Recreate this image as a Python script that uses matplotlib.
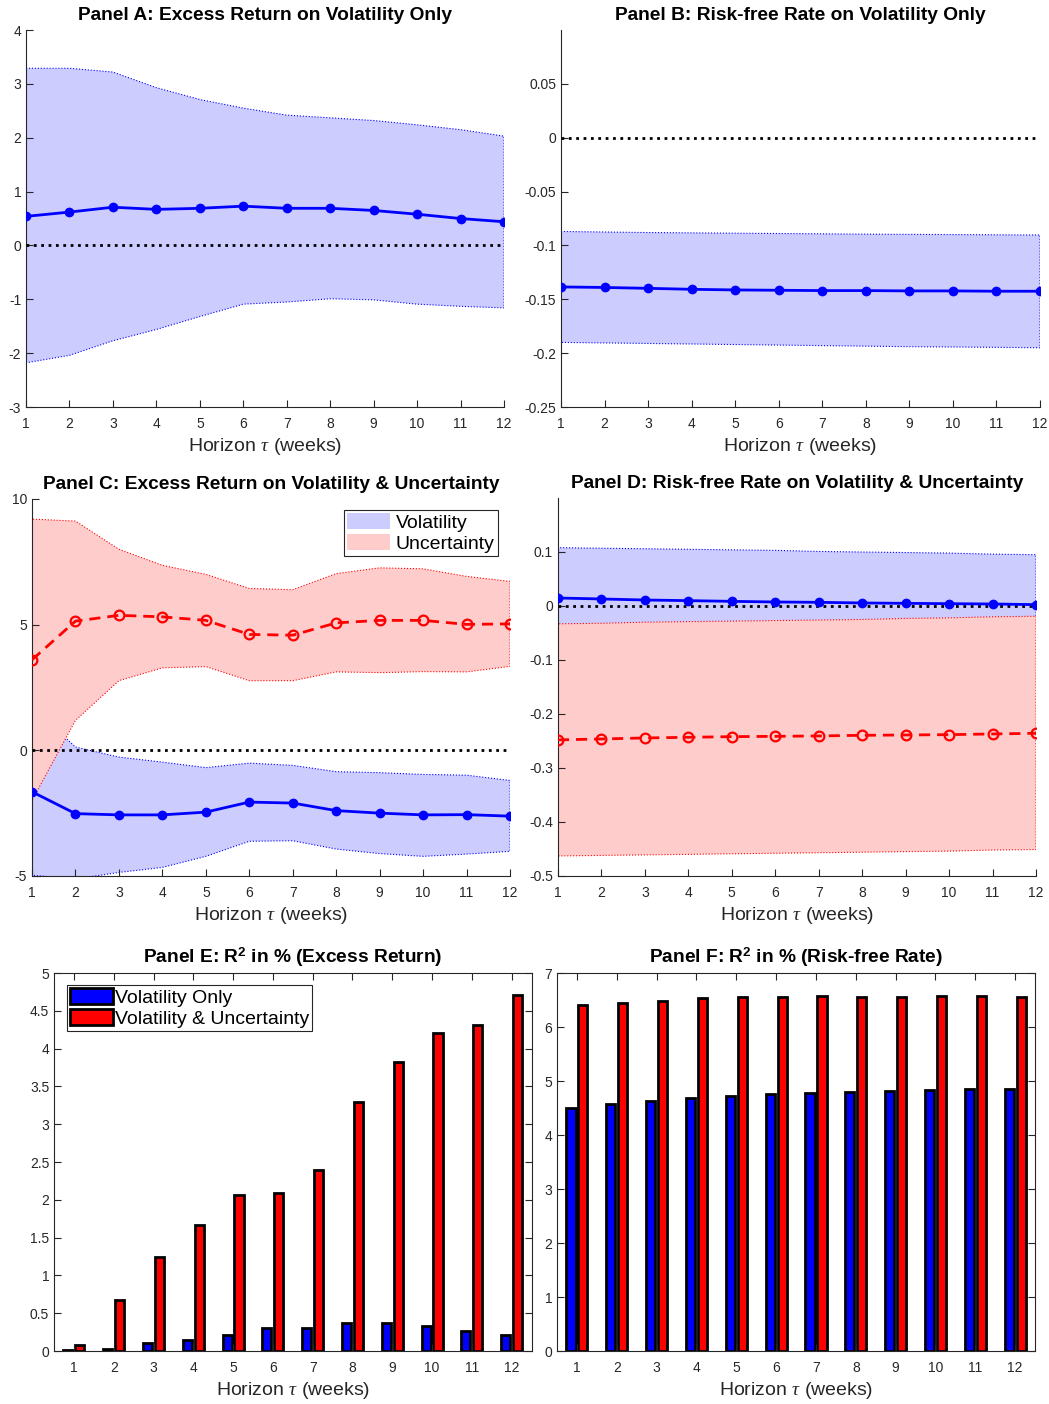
import numpy as np
import matplotlib
matplotlib.use("Agg")
import matplotlib.pyplot as plt
from matplotlib.patches import Patch

plt.rcParams['font.family'] = ['Liberation Sans', 'DejaVu Sans']
plt.rcParams['mathtext.fontset'] = 'custom'
plt.rcParams['mathtext.rm'] = 'Liberation Sans'
plt.rcParams['mathtext.bf'] = 'Liberation Sans:bold'
plt.rcParams['mathtext.it'] = 'Liberation Serif:italic'
plt.rcParams['axes.unicode_minus'] = False

horizon = np.arange(1, 13)

# Panel A: excess return on volatility only
a_coef = [0.54, 0.62, 0.71, 0.67, 0.69, 0.73, 0.69, 0.69, 0.65, 0.58, 0.50, 0.44]
a_hi = [3.29, 3.29, 3.22, 2.93, 2.71, 2.55, 2.42, 2.37, 2.32, 2.24, 2.15, 2.03]
a_lo = [-2.18, -2.04, -1.77, -1.56, -1.32, -1.09, -1.05, -0.99, -1.01, -1.09, -1.13, -1.16]

# Panel B: risk-free rate on volatility only
b_coef = [-0.1385, -0.139, -0.1398, -0.1407, -0.1413, -0.1416, -0.1419, -0.1419,
          -0.1422, -0.1422, -0.1425, -0.1425]
b_hi = [-0.087, -0.0875, -0.088, -0.0883, -0.0886, -0.0889, -0.0892, -0.0895,
        -0.0897, -0.0899, -0.0901, -0.0903]
b_lo = [-0.190, -0.1905, -0.191, -0.1915, -0.192, -0.1925, -0.193, -0.1935,
        -0.194, -0.1943, -0.1946, -0.195]

# Panel C: excess return on volatility & uncertainty
c_vol = [-1.65, -2.52, -2.57, -2.57, -2.46, -2.06, -2.10, -2.40, -2.50, -2.57, -2.56, -2.62]
c_vol_hi = [1.75, 0.13, -0.27, -0.47, -0.69, -0.51, -0.60, -0.85, -0.89, -0.96, -0.99, -1.20]
c_vol_lo = [-4.97, -5.12, -4.86, -4.66, -4.22, -3.62, -3.60, -3.93, -4.11, -4.22, -4.13, -4.02]
c_unc = [3.60, 5.14, 5.37, 5.31, 5.17, 4.61, 4.58, 5.07, 5.17, 5.17, 5.01, 5.03]
c_unc_hi = [9.20, 9.12, 8.00, 7.36, 7.00, 6.44, 6.39, 7.03, 7.26, 7.22, 6.92, 6.72]
c_unc_lo = [-2.00, 1.19, 2.77, 3.28, 3.33, 2.77, 2.77, 3.12, 3.09, 3.13, 3.12, 3.34]

# Panel D: risk-free rate on volatility & uncertainty
d_vol = [0.0148, 0.013, 0.0111, 0.0099, 0.0086, 0.0074, 0.0068, 0.0056, 0.0049, 0.0043, 0.0037, 0.0025]
d_vol_hi = [0.108, 0.107, 0.106, 0.105, 0.104, 0.103, 0.101, 0.100, 0.099, 0.098, 0.096, 0.095]
d_vol_lo = [-0.080, -0.081, -0.082, -0.083, -0.084, -0.085, -0.086, -0.087, -0.088, -0.089, -0.090, -0.090]
d_unc = [-0.248, -0.2463, -0.2444, -0.2432, -0.242, -0.2414, -0.2407, -0.2395, -0.2389, -0.2383, -0.237, -0.2358]
d_unc_hi = [-0.033, -0.032, -0.030, -0.029, -0.028, -0.027, -0.026, -0.025, -0.023, -0.022, -0.020, -0.019]
d_unc_lo = [-0.463, -0.462, -0.461, -0.460, -0.459, -0.458, -0.457, -0.456, -0.455, -0.454, -0.452, -0.451]

# Panel E / F: R^2 in %
e_vol = [0.01, 0.03, 0.106, 0.14, 0.21, 0.30, 0.31, 0.37, 0.375, 0.33, 0.265, 0.21]
e_both = [0.075, 0.67, 1.245, 1.665, 2.07, 2.09, 2.39, 3.30, 3.83, 4.21, 4.32, 4.71]
f_vol = [4.51, 4.58, 4.63, 4.69, 4.73, 4.76, 4.78, 4.79, 4.81, 4.83, 4.85, 4.86]
f_both = [6.41, 6.45, 6.49, 6.53, 6.55, 6.56, 6.57, 6.56, 6.56, 6.57, 6.57, 6.55]

BLUE_FILL = '#ccccff'
RED_FILL = '#ffcccc'
AX_COL = '#262626'
xlab = r'Horizon $\tau$ (weeks)'

fig = plt.figure(figsize=(10.49, 14.04), dpi=100)


def style_axes(ax, box=False):
    for s in ['left', 'bottom', 'top', 'right']:
        ax.spines[s].set_color(AX_COL)
        ax.spines[s].set_linewidth(0.8)
    if not box:
        ax.spines['top'].set_visible(False)
        ax.spines['right'].set_visible(False)
    ax.tick_params(direction='in', length=5, width=0.8, colors=AX_COL,
                   labelsize=10, top=box, right=box)
    ax.set_xlabel(xlab, fontsize=14, color=AX_COL, labelpad=4)


def line_panel(rect, title, ylim, yticks, yticklabels):
    ax = fig.add_axes(rect)
    ax.set_xlim(1, 12)
    ax.set_ylim(*ylim)
    ax.set_xticks(horizon)
    ax.set_yticks(yticks)
    ax.set_yticklabels(yticklabels)
    ax.set_title(title, fontsize=13.8, fontweight='bold', pad=7)
    style_axes(ax)
    ax.tick_params(axis='x', pad=7)
    return ax


def band(ax, lo, hi, fc, ec):
    ax.fill_between(horizon, lo, hi, facecolor=fc, edgecolor=ec,
                    linestyle=':', linewidth=0.8, zorder=1)


def zero_line(ax):
    ax.axhline(0, color='black', linestyle=':', linewidth=2, zorder=3)


# Panel A
ax = line_panel([0.0248, 0.7101, 0.4557, 0.2685],
                'Panel A: Excess Return on Volatility Only', (-3, 4),
                range(-3, 5), [str(v) for v in range(-3, 5)])
band(ax, a_lo, a_hi, BLUE_FILL, 'blue')
zero_line(ax)
ax.plot(horizon, a_coef, '-o', color='blue', lw=2, ms=6, zorder=4)

# Panel B
ax = line_panel([0.5348, 0.7101, 0.4566, 0.2685],
                'Panel B: Risk-free Rate on Volatility Only', (-0.25, 0.1),
                [-0.25, -0.2, -0.15, -0.1, -0.05, 0, 0.05],
                ['-0.25', '-0.2', '-0.15', '-0.1', '-0.05', '0', '0.05'])
band(ax, b_lo, b_hi, BLUE_FILL, 'blue')
zero_line(ax)
ax.plot(horizon, b_coef, '-o', color='blue', lw=2, ms=6, zorder=4)

# Panel C
ax = line_panel([0.0305, 0.3761, 0.4557, 0.2685],
                'Panel C: Excess Return on Volatility & Uncertainty', (-5, 10),
                [-5, 0, 5, 10], ['-5', '0', '5', '10'])
band(ax, c_vol_lo, c_vol_hi, BLUE_FILL, 'blue')
band(ax, c_unc_lo, c_unc_hi, RED_FILL, 'red')
zero_line(ax)
ax.plot(horizon, c_vol, '-o', color='blue', lw=2, ms=6, zorder=4)
ax.plot(horizon, c_unc, '--o', color='red', lw=2, ms=7, mfc='none', mew=1.6,
        dashes=(4, 2.5), zorder=4)
leg = ax.legend(handles=[Patch(facecolor=BLUE_FILL, edgecolor='none', label='Volatility'),
                         Patch(facecolor=RED_FILL, edgecolor='none', label='Uncertainty')],
                loc='upper right', bbox_to_anchor=(0.974, 0.97), fontsize=14,
                fancybox=False, framealpha=1, edgecolor=AX_COL, borderpad=0.15,
                handlelength=2.2, handleheight=0.9, handletextpad=0.3,
                labelspacing=0.12, borderaxespad=0)
leg.get_frame().set_linewidth(0.8)

# Panel D
ax = line_panel([0.5319, 0.3761, 0.4557, 0.2692],
                'Panel D: Risk-free Rate on Volatility & Uncertainty', (-0.5, 0.2),
                [-0.5, -0.4, -0.3, -0.2, -0.1, 0, 0.1],
                ['-0.5', '-0.4', '-0.3', '-0.2', '-0.1', '0', '0.1'])
band(ax, d_vol_lo, d_vol_hi, BLUE_FILL, 'blue')
band(ax, d_unc_lo, d_unc_hi, RED_FILL, 'red')
zero_line(ax)
ax.plot(horizon, d_vol, '-o', color='blue', lw=2, ms=6, zorder=4)
ax.plot(horizon, d_unc, '--o', color='red', lw=2, ms=7, mfc='none', mew=1.6,
        dashes=(4, 2.5), zorder=4)


def bar_panel(rect, title, vol, both, ylim, yticks, yticklabels):
    ax = fig.add_axes(rect)
    w = 0.23
    off = 0.15
    ax.bar(horizon - off, vol, w, color='blue', edgecolor='black', linewidth=2,
           label='Volatility Only')
    ax.bar(horizon + off, both, w, color='red', edgecolor='black', linewidth=2,
           label='Volatility & Uncertainty')
    ax.set_xlim(0.5, 12.5)
    ax.set_ylim(*ylim)
    ax.set_xticks(horizon)
    ax.set_yticks(yticks)
    ax.set_yticklabels(yticklabels)
    ax.set_title(title, fontsize=13.8, fontweight='bold', pad=7)
    style_axes(ax, box=True)
    ax.tick_params(axis='x', pad=7)
    return ax


ax = bar_panel([0.0515, 0.0377, 0.4552, 0.2692],
               r'Panel E: R$^{\mathbf{2}}$ in % (Excess Return)', e_vol, e_both, (0, 5),
               np.arange(0, 5.01, 0.5),
               ['0', '0.5', '1', '1.5', '2', '2.5', '3', '3.5', '4', '4.5', '5'])
leg = ax.legend(loc='upper left', bbox_to_anchor=(0.027, 0.968), fontsize=14,
                fancybox=False, framealpha=1, edgecolor=AX_COL, borderpad=0.15,
                handlelength=2.2, handleheight=0.9, handletextpad=0.1,
                labelspacing=0.12, borderaxespad=0)
leg.get_frame().set_linewidth(0.8)

bar_panel([0.531, 0.0377, 0.4557, 0.2692],
          r'Panel F: R$^{\mathbf{2}}$ in % (Risk-free Rate)', f_vol, f_both, (0, 7),
          range(0, 8), [str(v) for v in range(0, 8)])

fig.savefig('out.png', dpi=100)
